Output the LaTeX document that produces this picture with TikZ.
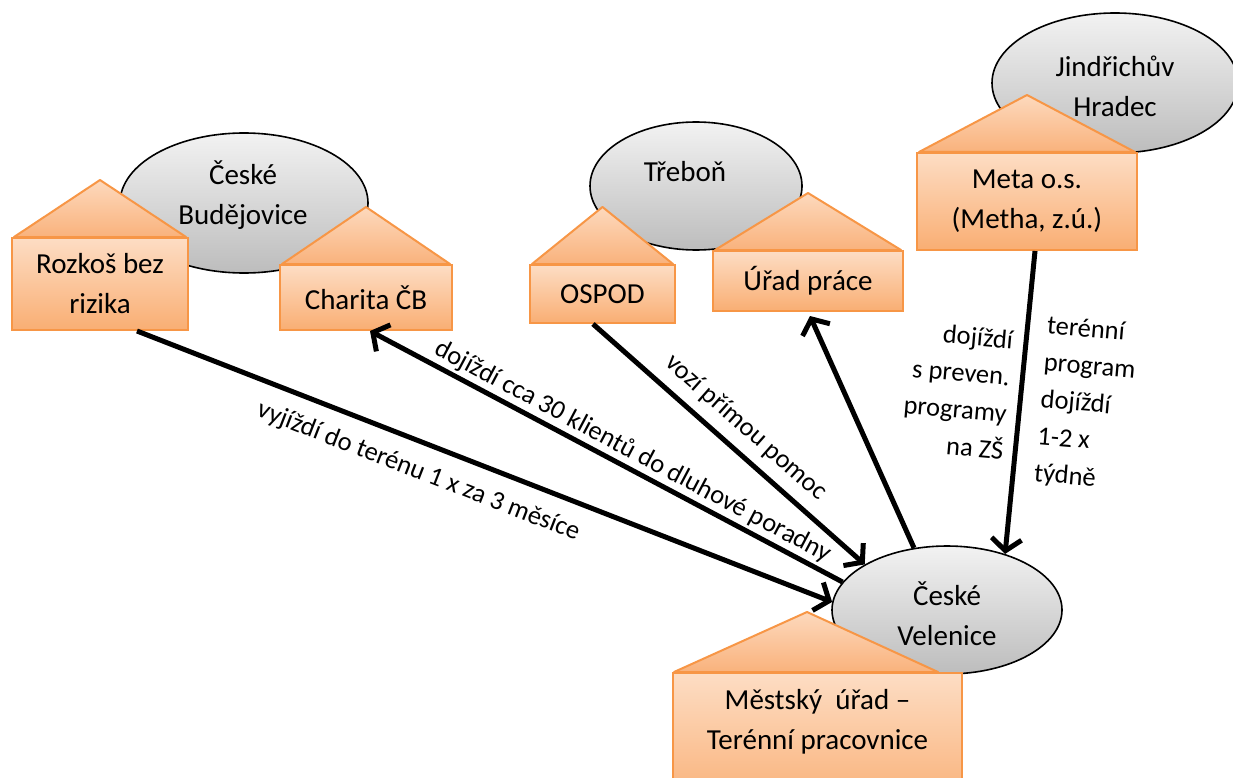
\documentclass[tikz,border=0pt]{standalone}
\usepackage{fontspec}
\setmainfont{Carlito}
\usetikzlibrary{shapes.geometric,arrows.meta,calc}
\definecolor{orbord}{HTML}{F79646}
\definecolor{bodytop}{HTML}{FDDDC4}
\definecolor{bodybot}{HTML}{F9AE73}
\definecolor{rooftop}{HTML}{FDD9BD}
\definecolor{roofbot}{HTML}{F9B27C}
\newcommand\myboxfont{\fontsize{29pt}{40pt}\selectfont}
\newcommand\mylabfont{\fontsize{26.5pt}{37pt}\selectfont}
\begin{document}
\begin{tikzpicture}[x=1pt,y=-1pt,
 ell/.style={ellipse, draw=black, line width=1.6pt, top color=black!5, bottom color=black!26, inner sep=0pt},
 body/.style={rectangle, draw=orbord, line width=2pt, top color=bodytop, bottom color=bodybot, inner sep=0pt, font=\myboxfont, align=center},
 roof/.style={draw=orbord, line width=2pt, top color=rooftop, bottom color=roofbot, line join=round},
 ctext/.style={font=\myboxfont, align=center, inner sep=0pt},
 conn/.style={line width=5pt, -{Straight Barb[length=12pt,width=30pt]}},
 lab/.style={font=\mylabfont, inner sep=0pt},
]
\useasboundingbox (0,0) rectangle (1233,778);
\clip (0,0) rectangle (1233,778);
% towns
\node[ell, minimum width=248pt, minimum height=140pt] (cb) at (244,203) {};
\node[ell, minimum width=212pt, minimum height=128pt] (tr) at (696,186) {};
\node[ell, minimum width=246pt, minimum height=140pt] (jh) at (1115,83) {};
\node[ell, minimum width=230pt, minimum height=128pt] (cv) at (947,610) {};
\node[ctext] (cbt) at (243,195) {České\\Budějovice};
\node[ctext] (trt) at (685,172) {Třeboň};
\node[ctext] (jht) at (1115,86) {Jindřichův\\Hradec};
\node[ctext] (cvt) at (947,614) {České\\Velenice};
% houses
\node[body, minimum width=176pt, minimum height=92pt] (b1) at (100,284) {Rozkoš bez\\rizika};
\node[body, minimum width=172pt, minimum height=65pt] (b2) at (366,297.5) {Charita ČB};
\node[body, minimum width=145pt, minimum height=58pt] (b3) at (602.5,294) {OSPOD};
\node[body, minimum width=190pt, minimum height=60pt] (b4) at (808,281) {Úřad práce};
\node[body, minimum width=220pt, minimum height=97pt] (b5) at (1027,201.5) {Meta o.s.\\(Metha, z.ú.)};
\node[body, minimum width=289pt, minimum height=140pt, anchor=north] (b6) at (817.5,672) {};
\foreach \b in {b1,b2,b3,b4,b5}{
  \draw[roof] ([xshift=3pt]\b.north west) -- ($(\b.north)+(0,-57)$) -- ([xshift=-3pt]\b.north east) -- cycle;
}
\draw[roof] ([xshift=2pt]b6.north west) -- ($(b6.north west)+(135,-60)$) -- ([xshift=-25pt]b6.north east) -- cycle;
\node[ctext] (b6t) at (817.5,722) {Městský\ \ úřad –\\Terénní pracovnice};
% connectors
\draw[conn] ([xshift=37pt]b1.south) -- (cv.176)
  node[lab, sloped, pos=0.42, below=15pt] (la) {vyjíždí do terénu 1 x za 3 měsíce};
\draw[conn] (cv.165) -- ([xshift=4pt]b2.south)
  node[lab, sloped, pos=0.46, above=2.5pt] (lb) {dojíždí cca 30 klientů do dluhové poradny};
\draw[conn] ([xshift=-9.5pt]b3.south) -- (cv.151)
  node[lab, sloped, pos=0.505, above=10pt] (lc) {vozí přímou pomoc};
\draw[conn] (cv.118) -- ([xshift=2pt,yshift=-4pt]b4.south);
\draw[conn] ([xshift=8pt]b5.south) -- (cv.44)
  node[lab, pos=0.476, anchor=east, xshift=-10pt, rotate=-5, align=right] (ld) {dojíždí\\s preven.\\programy\\na ZŠ}
  node[lab, pos=0.493, anchor=west, xshift=18pt, rotate=-5, align=left] (le) {terénní\\program\\dojíždí\\1-2 x\\týdně};
\end{tikzpicture}
\end{document}
